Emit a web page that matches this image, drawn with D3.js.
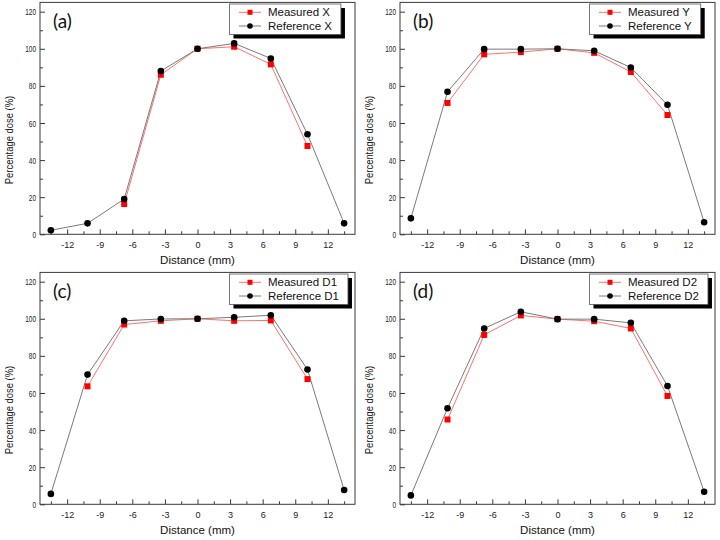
<!DOCTYPE html>
<html><head><meta charset="utf-8">
<script src="https://cdn.jsdelivr.net/npm/d3@7"></script>
<style>body{margin:0;background:#fff}</style>
</head><body>
<svg id="c" width="720" height="540"></svg>
<script>
// ---- data ----
const distance = [-13.5, -10.125, -6.75, -3.375, 0, 3.375, 6.75, 10.125, 13.5];
const measuredX  = [null, null, 16.3, 86.0, 100, 101.1, 91.6, 47.6, null];
const referenceX = [2.2, 5.9, 19.0, 88.0, 100, 102.9, 94.8, 53.9, 5.9];
const measuredY  = [null, 70.8, 97.0, 98.2, 100, 97.8, 87.5, 64.3, null];
const referenceY = [8.6, 76.8, 99.8, 99.8, 100, 98.9, 89.9, 69.8, 6.5];
const measuredD1  = [null, 63.6, 96.9, 98.9, 100, 98.9, 99.1, 67.5, null];
const referenceD1 = [5.6, 69.9, 98.9, 99.9, 100, 100.8, 101.9, 72.7, 7.7];
const measuredD2  = [null, 45.7, 91.3, 101.8, 99.8, 98.7, 94.8, 58.4, null];
const referenceD2 = [4.8, 51.8, 94.8, 103.8, 99.8, 99.8, 97.8, 63.8, 6.8];
const panelLabels = ["(a)", "(b)", "(c)", "(d)"];
const measuredNames  = ["Measured X", "Measured Y", "Measured D1", "Measured D2"];
const referenceNames = ["Reference X", "Reference Y", "Reference D1", "Reference D2"];
const measuredSets  = [measuredX, measuredY, measuredD1, measuredD2];
const referenceSets = [referenceX, referenceY, referenceD1, referenceD2];
const xTickValues = [-12, -9, -6, -3, 0, 3, 6, 9, 12];
const xMinorValues = [-13.5, -10.5, -7.5, -4.5, -1.5, 1.5, 4.5, 7.5, 10.5, 13.5];
const yTickValues = [0, 20, 40, 60, 80, 100, 120];
const yMinorValues = [10, 30, 50, 70, 90, 110];
const xTitle = "Distance (mm)";
const yTitle = "Percentage dose (%)";

// ---- drawing ----
const svg = d3.select("#c");
const L = 40, R = 355, T = 2.4, B = 234.3;
const x = d3.scaleLinear().domain([-14.5, 14.5]).range([L, R]);
const y = d3.scaleLinear().domain([0, 125]).range([B, T]);
const axisColor = "#3a3a3a";
const font = "Arial, 'Liberation Sans', sans-serif";

panelLabels.forEach((lab, i) => {
  const col = i % 2, row = Math.floor(i / 2);
  const g = svg.append("g").attr("transform", `translate(${col * 360},${row * 270})`);

  // minor ticks
  const xMinor = g.append("g").attr("transform", `translate(0,${B})`)
    .call(d3.axisBottom(x).tickValues(xMinorValues).tickSize(-3).tickFormat(""));
  const yMinor = g.append("g").attr("transform", `translate(${L},0)`)
    .call(d3.axisLeft(y).tickValues(yMinorValues).tickSize(-3).tickFormat(""));
  // major ticks
  const xAx = g.append("g").attr("transform", `translate(0,${B})`)
    .call(d3.axisBottom(x).tickValues(xTickValues).tickSize(-5).tickFormat(d3.format("d")));
  const yAx = g.append("g").attr("transform", `translate(${L},0)`)
    .call(d3.axisLeft(y).tickValues(yTickValues).tickSize(-5).tickFormat(d3.format("d")));
  [xMinor, yMinor, xAx, yAx].forEach(a => {
    a.select(".domain").remove();
    a.selectAll("line").attr("stroke", axisColor);
  });
  xAx.selectAll("text").attr("y", 14).attr("dy", null)
    .attr("font-family", font).attr("font-size", 9).attr("fill", "#222")
    .text(d => d < 0 ? "-" + Math.abs(d) : d);
  const sc = 0.75;
  yAx.selectAll("text").attr("x", -4 / sc).attr("dy", "0.35em")
    .attr("transform", `scale(${sc},1)`)
    .attr("font-family", font).attr("font-size", 8.6).attr("fill", "#222");

  // frame
  g.append("rect").attr("x", L).attr("y", T).attr("width", R - L).attr("height", B - T)
    .attr("fill", "none").attr("stroke", axisColor).attr("stroke-width", 1);

  // axis titles
  g.append("text").attr("x", (L + R) / 2).attr("y", 264).attr("text-anchor", "middle")
    .attr("font-family", font).attr("font-size", 11.5).attr("fill", "#111").text(xTitle);
  g.append("text").attr("transform", `translate(13,140) scale(1,0.82) rotate(-90)`)
    .attr("text-anchor", "middle")
    .attr("font-family", font).attr("font-size", 11.5).attr("fill", "#111").text(yTitle);

  // panel label
  g.append("text").attr("x", 53).attr("y", 28)
    .attr("font-family", "Lato, 'Open Sans', sans-serif").attr("font-size", 19).attr("fill", "#111").text(lab);

  // series
  const m = measuredSets[i], r = referenceSets[i];
  const mPts = distance.map((d, k) => ({x: d, y: m[k]}));
  const rPts = distance.map((d, k) => ({x: d, y: r[k]}));
  const line = d3.line().defined(p => p.y != null).x(p => x(p.x)).y(p => y(p.y));
  g.append("path").datum(mPts).attr("d", line).attr("fill", "none")
    .attr("stroke", "#ff7070").attr("stroke-width", 1);
  g.append("path").datum(rPts).attr("d", line).attr("fill", "none")
    .attr("stroke", "#7a7a7a").attr("stroke-width", 1);
  const sq = 6;
  g.selectAll(".msq").data(mPts.filter(p => p.y != null)).join("rect")
    .attr("x", p => x(p.x) - sq / 2).attr("y", p => y(p.y) - sq / 2)
    .attr("width", sq).attr("height", sq).attr("fill", "#ff0000");
  g.selectAll(".rc").data(rPts).join("circle")
    .attr("cx", p => x(p.x)).attr("cy", p => y(p.y)).attr("r", 3.3).attr("fill", "#000");

  // legend
  const lg = g.append("g");
  const t1 = lg.append("text").attr("x", 268).attr("y", 16.3).attr("font-family", font)
    .attr("font-size", 11.5).attr("fill", "#111").text(measuredNames[i]);
  const t2 = lg.append("text").attr("x", 268).attr("y", 30.2).attr("font-family", font)
    .attr("font-size", 11.5).attr("fill", "#111").text(referenceNames[i]);
  const w = Math.max(t1.node().getComputedTextLength(), t2.node().getComputedTextLength());
  const bx = 229.5, by = 4, bw = 268 + w + 9 - bx, bh = 30.5;
  lg.insert("rect", "text").attr("x", bx + 4).attr("y", by + 4).attr("width", bw).attr("height", bh).attr("fill", "#000");
  lg.insert("rect", "text").attr("x", bx).attr("y", by).attr("width", bw).attr("height", bh)
    .attr("fill", "#fff").attr("stroke", "#555").attr("stroke-width", 0.8);
  lg.append("line").attr("x1", 239).attr("x2", 261).attr("y1", 12.3).attr("y2", 12.3)
    .attr("stroke", "#ff7070").attr("stroke-width", 1);
  lg.append("rect").attr("x", 250 - 2.5).attr("y", 12.3 - 2.5).attr("width", 5).attr("height", 5).attr("fill", "#ff0000");
  lg.append("line").attr("x1", 239).attr("x2", 261).attr("y1", 26).attr("y2", 26)
    .attr("stroke", "#7a7a7a").attr("stroke-width", 1);
  lg.append("circle").attr("cx", 250).attr("cy", 26).attr("r", 2.8).attr("fill", "#000");
});
</script>
</body></html>
